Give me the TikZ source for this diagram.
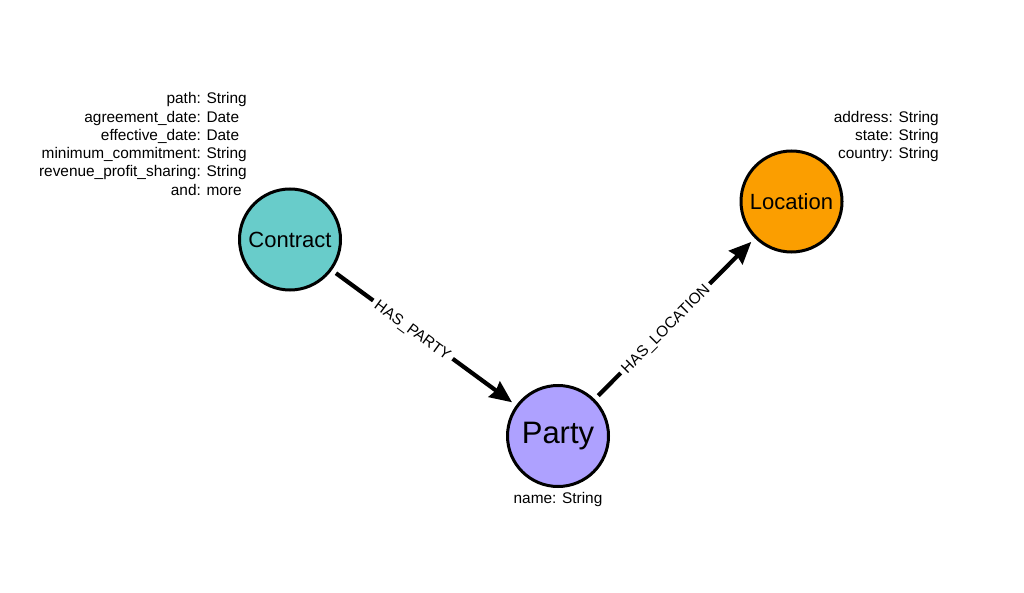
\documentclass[tikz,border=0pt]{standalone}
\usepackage{fontspec}
\setmainfont{Liberation Sans}
\usepackage{tikz}
\usetikzlibrary{positioning,arrows.meta}
\definecolor{contractclr}{HTML}{68CCCA}
\definecolor{partyclr}{HTML}{AEA1FF}
\definecolor{locationclr}{HTML}{FB9E00}
\tikzset{ %
  ,>={Stealth[length=22pt, width=19pt, inset=2pt]}
  ,every node/.style={font=\fontsize{15.4}{18.3}\selectfont}
  ,vertex/.style={draw, circle, line width=3pt, inner sep=0, minimum size=101pt, on grid, font=\fontsize{22}{26}\selectfont}
  ,rel/.style={line width=4.2pt, shorten <=5pt, shorten >=5pt}
  ,rlabel/.style={sloped, pos=0.44, fill=white, inner xsep=4pt, inner ysep=1pt, text height=11pt, text depth=0pt}
  ,prob/.style={inner sep=0}
}
\begin{document}
\begin{tikzpicture}[x=1pt, y=-1pt]
      \useasboundingbox (0,0) rectangle (1024,593);
      \draw
      node[vertex, fill=contractclr] (Contract) at (290,239.5) {Contract}
      node[vertex, fill=partyclr, font=\fontsize{31}{36}\selectfont, below right=196.5pt and 268pt of Contract] (Party) {Party}
      node[vertex, fill=locationclr, above right=234.5pt and 233.5pt of Party] (Location) {Location};
      \node[prob, anchor=east] (ContractProps) at (247,145.8) {%
        \begin{tabular}{@{}r@{: }l@{}}
          path & String\\
          agreement\_date & Date\\
          effective\_date & Date\\
          minimum\_commitment & String\\
          revenue\_profit\_sharing & String\\
          and & more
        \end{tabular}};
      \node[prob, anchor=east] (LocationProps) at (939,137) {%
        \begin{tabular}{@{}r@{: }l@{}}
          address & String\\
          state & String\\
          country & String
        \end{tabular}};
      \node[prob, anchor=base] (PartyProps) at (558,503) {name: String};
      \draw [rel,->] (Contract) edge node[rlabel] {HAS\_PARTY} (Party)
        (Party) edge node[rlabel] {HAS\_LOCATION} (Location);
    \end{tikzpicture}
\end{document}
